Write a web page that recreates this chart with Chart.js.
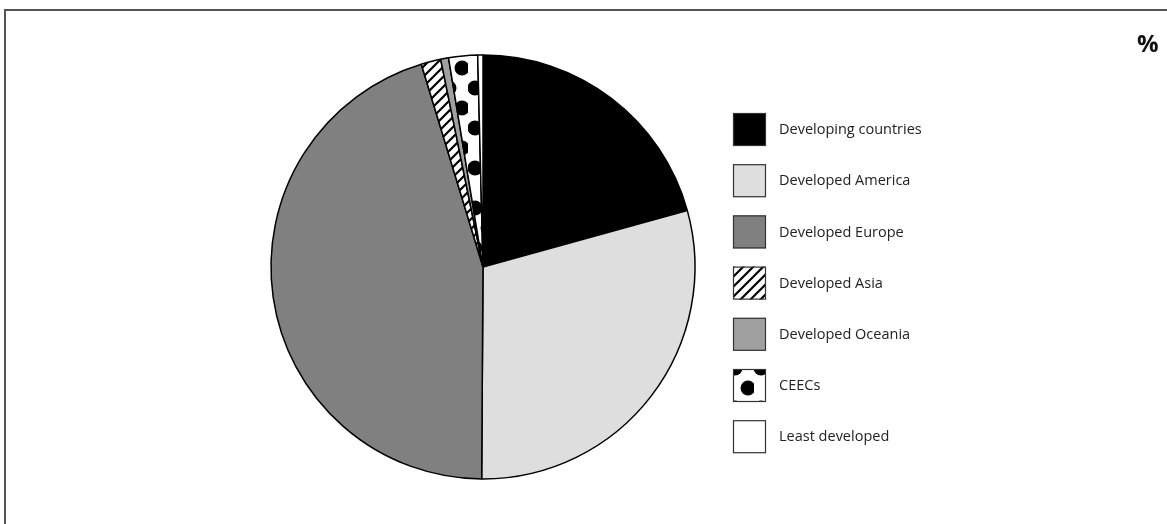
<!DOCTYPE html>
<html>
<head>
<meta charset="utf-8">
<script src="https://cdn.jsdelivr.net/npm/chart.js@4"></script>
<style>
  html, body { margin: 0; padding: 0; background: #fff; }
  #wrap { position: relative; width: 1167px; height: 524px; }
</style>
</head>
<body>
<div id="wrap"><canvas id="share-pie"></canvas></div>
<script>
// shares by region, in %
const regions = ["Developing countries", "Developed America", "Developed Europe", "Developed Asia", "Developed Oceania", "CEECs", "Least developed"];
const shares = [20.7, 29.4, 45.2, 1.5, 0.6, 2.2, 0.4];

function hatchPattern() {
  const t = document.createElement("canvas");
  t.width = 10; t.height = 10;
  const g = t.getContext("2d");
  g.fillStyle = "#fff"; g.fillRect(0, 0, 10, 10);
  g.strokeStyle = "#000"; g.lineWidth = 2.2;
  g.beginPath();
  g.moveTo(-2, 12); g.lineTo(12, -2);
  g.moveTo(-2, 2); g.lineTo(2, -2);
  g.moveTo(8, 12); g.lineTo(12, 8);
  g.stroke();
  return g.createPattern(t, "repeat");
}

function dotPattern() {
  const t = document.createElement("canvas");
  t.width = 26; t.height = 40;
  const g = t.getContext("2d");
  g.fillStyle = "#fff"; g.fillRect(0, 0, 26, 40);
  g.fillStyle = "#000";
  [[7, 8], [20, 28]].forEach(([x, y]) => {
    g.beginPath(); g.arc(x, y, 7.5, 0, Math.PI * 2); g.fill();
  });
  return g.createPattern(t, "repeat");
}

const ctx = document.getElementById("share-pie").getContext("2d");
const fills = ["#000000", "#dedede", "#808080", hatchPattern(), "#a0a0a0", dotPattern(), "#ffffff"];

// legend + frame + unit label
const extras = {
  id: "extras",
  afterDraw(chart) {
    const c = chart.ctx;
    c.save();
    c.strokeStyle = "#555"; c.lineWidth = 2;
    c.beginPath();
    c.moveTo(5, 524); c.lineTo(5, 10); c.lineTo(1167, 10);
    c.stroke();

    c.fillStyle = "#111";
    c.font = "bold 24px 'Open Sans'";
    c.textBaseline = "alphabetic";
    c.fillText("%", 1137, 52);

    c.font = "14.5px 'Open Sans'";
    c.textBaseline = "middle";
    regions.forEach((r, i) => {
      const y = 113 + i * 51.2;
      c.fillStyle = fills[i];
      c.fillRect(733, y, 33, 33);
      c.strokeStyle = "#333"; c.lineWidth = 1.2;
      c.strokeRect(733.5, y + 0.5, 32, 32);
      c.fillStyle = "#222";
      c.fillText(r, 779, y + 17);
    });
    c.restore();
  }
};

new Chart(ctx, {
  type: "pie",
  data: {
    labels: regions,
    datasets: [{
      data: shares,
      backgroundColor: fills,
      borderColor: "#000",
      borderWidth: 1.5
    }]
  },
  options: {
    responsive: true,
    maintainAspectRatio: false,
    animation: false,
    radius: 212,
    layout: { padding: { left: 271, right: 472, top: 55, bottom: 45 } },
    plugins: {
      legend: { display: false },
      tooltip: { enabled: false }
    }
  },
  plugins: [extras]
});
</script>
</body>
</html>
